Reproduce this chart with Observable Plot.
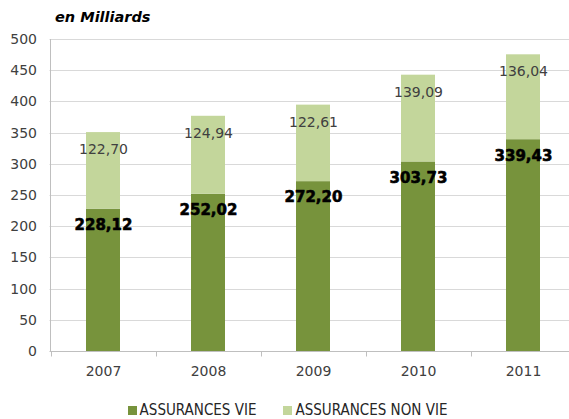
<!DOCTYPE html>
<html><head><meta charset="utf-8">
<script src="https://cdn.jsdelivr.net/npm/d3@7"></script>
<script src="https://cdn.jsdelivr.net/npm/@observablehq/plot@0.6"></script>
<style>
body{margin:0;background:#fff;}
#wrap{position:relative;width:569px;height:419px;overflow:hidden;}
#title{position:absolute;left:55px;top:9px;font:italic bold 14.5px "DejaVu Sans",sans-serif;color:#000;}
#legend{position:absolute;left:0;top:401px;width:569px;display:flex;justify-content:center;gap:27px;font:15px "DejaVu Sans Condensed","Liberation Sans Narrow","DejaVu Sans",sans-serif;color:#262626;padding-left:6px;box-sizing:border-box;}
#legend span.sw{display:inline-block;width:9px;height:9px;margin-right:3px;}
#legend div{display:flex;align-items:center;}
#chart svg{max-width:none !important;}
</style></head>
<body><div id="wrap"><div id="title">en Milliards</div><div id="chart"></div>
<div id="legend"></div></div>
<script>
const years = ["2007","2008","2009","2010","2011"];
const vie = [228.12, 252.02, 272.20, 303.73, 339.43];
const nonVie = [122.70, 124.94, 122.61, 139.09, 136.04];
const seriesNames = ["ASSURANCES VIE","ASSURANCES NON VIE"];
const colors = ["#77933C","#C3D69B"];
const yTicks = [0,50,100,150,200,250,300,350,400,450,500];

const fmt = v => v.toFixed(2).replace(".", ",");
const data = [];
years.forEach((y,i)=>{
  data.push({year:y, series:seriesNames[0], value:vie[i]});
  data.push({year:y, series:seriesNames[1], value:nonVie[i]});
});
const tops = years.map((y,i)=>({year:y, vie:vie[i], nonVie:nonVie[i], total:vie[i]+nonVie[i]}));
const NS = "http://www.w3.org/2000/svg";
const line = (x1,y1,x2,y2,stroke) => {
  const ln = document.createElementNS(NS,"line");
  ln.setAttribute("x1",x1);ln.setAttribute("x2",x2);
  ln.setAttribute("y1",y1);ln.setAttribute("y2",y2);
  ln.setAttribute("stroke",stroke);
  return ln;
};
const grid = (index, scales, values, dims) => {
  const g = document.createElementNS(NS,"g");
  yTicks.forEach(t=>{
    const y = Math.round(scales.y(t)) + 0.5;
    g.appendChild(line(dims.marginLeft, y, dims.width, y, t===0 ? "#bfbfbf" : "#d9d9d9"));
  });
  return g;
};
const boundaryTicks = (index, scales, values, dims) => {
  const g = document.createElementNS(NS,"g");
  const bw = scales.x.bandwidth();
  const step = scales.x.step();
  const y0 = Math.round(scales.y(0)) + 0.5;
  years.forEach((yr,i)=>{
    const xl = Math.round(scales.x(yr) - (step-bw)/2) + 0.5;
    g.appendChild(line(xl, y0, xl, y0+5, "#bfbfbf"));
  });
  const xa = Math.round(dims.marginLeft) + 0.5;
  g.appendChild(line(xa, scales.y(500), xa, y0, "#bfbfbf"));
  return g;
};

const chart = Plot.plot({
  width:569, height:395,
  marginTop:39, marginBottom:44, marginLeft:49.5, marginRight:0,
  style:{fontFamily:"'DejaVu Sans', sans-serif", fontSize:"14px", color:"#404040", background:"#fff"},
  x:{domain:years, paddingInner:0.68, paddingOuter:0.34, range:[49.5,577], label:null},
  y:{domain:[0,500], label:null},
  color:{domain:seriesNames, range:colors},
  marks:[
    grid,
    Plot.barY(data,{x:"year", y:"value", fill:"series"}),
    boundaryTicks,
    Plot.axisY(yTicks,{tickSize:0, tickPadding:13, fontSize:14, fill:"#404040", label:null}),
    Plot.axisX({tickSize:0, tickPadding:15, fontSize:14, fill:"#404040", label:null}),
    Plot.text(tops,{x:"year", y:"total", text:d=>fmt(d.nonVie), dy:17, fontSize:14, fill:"#404040"}),
    Plot.text(tops,{x:"year", y:"vie", text:d=>fmt(d.vie), dy:16, fontSize:15, fontWeight:"bold", fill:"#000", stroke:"#000", strokeWidth:0.6})
  ]
});
document.getElementById("chart").appendChild(chart);
const leg = document.getElementById("legend");
seriesNames.forEach((s,i)=>{
  const d = document.createElement("div");
  d.innerHTML = `<span class="sw" style="background:${colors[i]}"></span>${s}`;
  leg.appendChild(d);
});
</script></body></html>
